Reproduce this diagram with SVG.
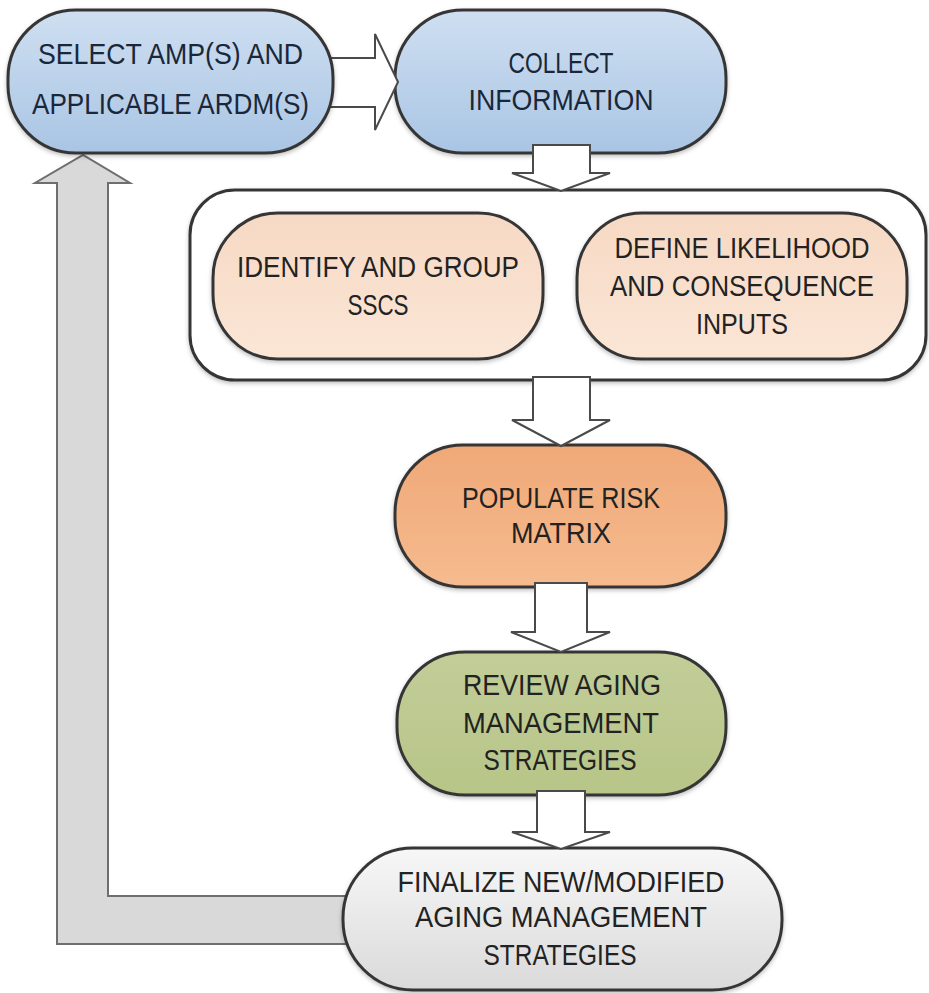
<svg xmlns="http://www.w3.org/2000/svg" width="929" height="993" viewBox="0 0 929 993">
  <defs>
    <linearGradient id="gBlue" x1="0" y1="0" x2="0" y2="1">
      <stop offset="0" stop-color="#cfdff1"/>
      <stop offset="1" stop-color="#a9c5e4"/>
    </linearGradient>
    <linearGradient id="gPeach" x1="0" y1="0" x2="0" y2="1">
      <stop offset="0" stop-color="#f6d9c4"/>
      <stop offset="1" stop-color="#fbe6d6"/>
    </linearGradient>
    <linearGradient id="gOrange" x1="0" y1="0" x2="0" y2="1">
      <stop offset="0" stop-color="#f0a878"/>
      <stop offset="1" stop-color="#f5bb8e"/>
    </linearGradient>
    <linearGradient id="gGreen" x1="0" y1="0" x2="0" y2="1">
      <stop offset="0" stop-color="#c2cd98"/>
      <stop offset="1" stop-color="#b7c588"/>
    </linearGradient>
    <linearGradient id="gGray" x1="0" y1="0" x2="0" y2="1">
      <stop offset="0" stop-color="#f7f7f7"/>
      <stop offset="1" stop-color="#dadada"/>
    </linearGradient>
    <filter id="sh" x="-10%" y="-10%" width="120%" height="130%">
      <feDropShadow dx="0" dy="2" stdDeviation="2" flood-color="#000" flood-opacity="0.25"/>
    </filter>
  </defs>
  <style>
    .node { stroke: #363636; stroke-width: 3; filter: url(#sh); }
    .cont { fill: #ffffff; stroke: #363636; stroke-width: 3; filter: url(#sh); }
    .arrow { fill: #ffffff; stroke: #4a4a4a; stroke-width: 2; stroke-linejoin: miter; }
    .back { fill: #d9d9d9; stroke: #6e6e6e; stroke-width: 2; }
    text { font-family: "Liberation Sans Narrow", "Liberation Sans", Arial, sans-serif; font-size: 30px; text-anchor: middle; fill: #222222; }
    .blue text { fill: #1a2738; }
  </style>

  <g id="connectors">
    <polygon id="feedback" class="back" points="380,896 108,896 108,183 130,183 83,155 35,183 57,183 57,944 380,944"/>
  </g>

  <g id="collect" class="blue">
    <rect class="node" x="395" y="10" width="331" height="143" rx="68" ry="68" fill="url(#gBlue)"/>
    <text x="561" y="73" textLength="105" lengthAdjust="spacingAndGlyphs">COLLECT</text>
    <text x="561" y="110" textLength="185" lengthAdjust="spacingAndGlyphs">INFORMATION</text>
  </g>

  <g id="arrow-select-collect">
    <polygon class="arrow" points="325,58 375,58 375,34 398,82 375,130 375,107 325,107"/>
  </g>

  <g id="select" class="blue">
    <rect class="node" x="8" y="10" width="325" height="143" rx="68" ry="68" fill="url(#gBlue)"/>
    <text x="170.5" y="64" font-size="31" textLength="265" lengthAdjust="spacingAndGlyphs">SELECT AMP(S) AND</text>
    <text x="170.5" y="114" font-size="31" textLength="277" lengthAdjust="spacingAndGlyphs">APPLICABLE ARDM(S)</text>
  </g>

  <g id="group-container">
    <rect class="cont" x="190" y="190" width="736" height="190" rx="45" ry="45"/>
  </g>

  <g id="identify">
    <rect class="node" x="213" y="213" width="330" height="146" rx="65" ry="65" fill="url(#gPeach)"/>
    <text x="378" y="277" textLength="282" lengthAdjust="spacingAndGlyphs">IDENTIFY AND GROUP</text>
    <text x="378" y="315" textLength="61" lengthAdjust="spacingAndGlyphs">SSCS</text>
  </g>

  <g id="define">
    <rect class="node" x="577" y="213" width="330" height="146" rx="65" ry="65" fill="url(#gPeach)"/>
    <text x="742" y="258" textLength="255" lengthAdjust="spacingAndGlyphs">DEFINE LIKELIHOOD</text>
    <text x="742" y="296" textLength="264" lengthAdjust="spacingAndGlyphs">AND CONSEQUENCE</text>
    <text x="742" y="334" textLength="92" lengthAdjust="spacingAndGlyphs">INPUTS</text>
  </g>

  <g id="populate">
    <rect class="node" x="395" y="445" width="331" height="142" rx="68" ry="68" fill="url(#gOrange)"/>
    <text x="561" y="508" textLength="198" lengthAdjust="spacingAndGlyphs">POPULATE RISK</text>
    <text x="561" y="543" textLength="100" lengthAdjust="spacingAndGlyphs">MATRIX</text>
  </g>

  <g id="review">
    <rect class="node" x="397" y="652" width="329" height="143" rx="68" ry="68" fill="url(#gGreen)"/>
    <text x="562" y="695" textLength="198" lengthAdjust="spacingAndGlyphs">REVIEW AGING</text>
    <text x="561" y="733" textLength="196" lengthAdjust="spacingAndGlyphs">MANAGEMENT</text>
    <text x="560" y="770" textLength="153" lengthAdjust="spacingAndGlyphs">STRATEGIES</text>
  </g>

  <g id="finalize">
    <rect class="node" x="343" y="848" width="439" height="142" rx="70" ry="70" fill="url(#gGray)"/>
    <text x="561" y="892" textLength="327" lengthAdjust="spacingAndGlyphs">FINALIZE NEW/MODIFIED</text>
    <text x="561" y="927" textLength="292" lengthAdjust="spacingAndGlyphs">AGING MANAGEMENT</text>
    <text x="560" y="965" textLength="153" lengthAdjust="spacingAndGlyphs">STRATEGIES</text>
  </g>

  <g id="flow-arrows">
    <polygon class="arrow" points="533,145 590,145 590,173 610,173 561,191 512,173 533,173"/>
    <polygon class="arrow" points="533,377 590,377 590,420 610,420 561,446 512,420 533,420"/>
    <polygon class="arrow" points="535,583 587,583 587,632 610,632 561,652 511,632 535,632"/>
    <polygon class="arrow" points="537,791 585,791 585,832 610,832 561,849 512,832 537,832"/>
  </g>
</svg>
